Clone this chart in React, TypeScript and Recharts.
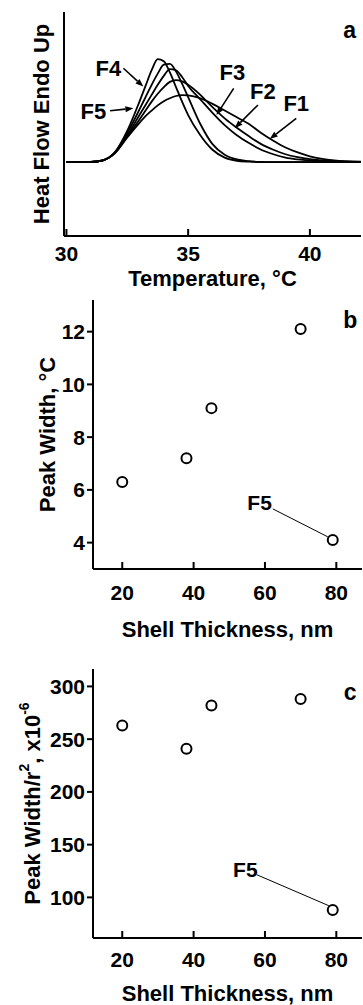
import {
  LineChart, Line, ScatterChart, Scatter,
  XAxis, YAxis, ReferenceLine, ReferenceDot,
} from 'recharts'

const FONT = '"Liberation Sans", Arial, Helvetica, sans-serif'

// panel a: DSC traces (arbitrary heat-flow units, 0..100 across the frame)
const temps = [30, 31, 31.5, 32, 32.5, 33, 33.25, 33.5, 33.75, 34, 34.25, 34.5, 34.75, 35, 35.5, 36, 36.5, 37, 37.5, 38, 38.5, 39, 39.5, 40, 41, 42.1]
const f1 = [33, 33.1, 33.8, 37, 44, 50.5, 53.5, 56, 58.3, 60.2, 61.5, 62.5, 62.9, 62.8, 61.5, 59, 56, 53, 50, 46, 42.5, 39.5, 37.3, 35.6, 33.8, 33.2]
const f2 = [33, 33.1, 33.8, 37.2, 44.5, 52, 56, 60, 63.5, 66.5, 68.8, 69.6, 69, 67.5, 63, 57.5, 52.5, 48.3, 44.5, 41, 38.5, 36.5, 35.2, 34.3, 33.4, 33]
const f3 = [33, 33.1, 33.8, 37.3, 45, 54, 58.5, 63, 67.5, 71.5, 74.5, 74, 71, 67, 61, 55, 49.5, 45, 41.5, 38.5, 36.5, 35, 34.2, 33.7, 33.2, 33]
const f4 = [33, 33.1, 33.8, 37.5, 46, 56.5, 62, 67.5, 72.5, 76.5, 76.8, 73.5, 68, 62, 50, 41, 36.3, 34.2, 33.4, 33.1, 33, 33, 33, 33, 33, 33]
const f5 = [33, 33.1, 33.8, 37.5, 47, 60, 67, 74, 79, 78, 73, 66.5, 60, 54, 45, 38.5, 35, 33.6, 33.2, 33, 33, 33, 33, 33, 33, 33]
const tempTicks = [30, 35, 40]

// panels b and c
const shellThickness = [20, 38, 45, 70, 79]
const peakWidth = [6.3, 7.2, 9.1, 12.1, 4.1]
const peakWidthPerR2 = [263, 241, 282, 288, 88]
const thicknessTicks = [20, 40, 60, 80]
const widthTicks = [4, 6, 8, 10, 12]
const normTicks = [100, 150, 200, 250, 300]

const dscData = temps.map((t, i) => ({ t, f1: f1[i], f2: f2[i], f3: f3[i], f4: f4[i], f5: f5[i] }))
const widthData = shellThickness.map((x, i) => ({ x, y: peakWidth[i] }))
const normData = shellThickness.map((x, i) => ({ x, y: peakWidthPerR2[i] }))

const tickStyle = { fill: '#000', fontSize: 21, fontWeight: 700, fontFamily: FONT }
const axisLine = { stroke: '#000', strokeWidth: 2 }
const noteLabel = (value: string, size = 22) => ({
  value, position: 'center' as const, fill: '#000', fontSize: size, fontWeight: 700, fontFamily: FONT,
})

function Arrow(props: any) {
  const { x1, y1, x2, y2 } = props
  const a = Math.atan2(y2 - y1, x2 - x1)
  const bx = x2 - 8 * Math.cos(a)
  const by = y2 - 8 * Math.sin(a)
  const s = Math.sin(a), c = Math.cos(a)
  const pts = `${x2},${y2} ${bx + 3 * s},${by - 3 * c} ${bx - 3 * s},${by + 3 * c}`
  return (
    <g>
      <line x1={x1} y1={y1} x2={bx} y2={by} stroke="#000" strokeWidth={1.6} />
      <polygon points={pts} fill="#000" />
    </g>
  )
}

function Ring(props: any) {
  return <circle cx={props.cx} cy={props.cy} r={5} fill="#fff" stroke="#000" strokeWidth={2} />
}

// rotated y-axis title, cx = centre measured from the left of the axis box
const vTitle = (cx: number, body: React.ReactNode) => (p: any) => {
  const vb = p.viewBox ?? p
  const x = vb.x + cx
  const y = vb.y + vb.height / 2
  return (
    <text x={x} y={y} transform={`rotate(-90 ${x} ${y})`} textAnchor="middle"
      dominantBaseline="central" fill="#000" fontSize={22} fontWeight={700} fontFamily={FONT}>
      {body}
    </text>
  )
}

const xTitle = (value: string, offset: number) => ({
  value, position: 'insideBottom' as const, offset,
  fill: '#000', fontSize: 22, fontWeight: 700, fontFamily: FONT,
})

function PanelA() {
  return (
    <LineChart width={363} height={292} data={dscData} margin={{ top: 12, right: 2, bottom: 0, left: 0 }}>
      <XAxis dataKey="t" type="number" domain={[29.9, 42.1]} ticks={tempTicks} allowDataOverflow
        height={56} tick={tickStyle} tickSize={-7} tickMargin={17}
        axisLine={axisLine} tickLine={axisLine}
        label={xTitle('Temperature, °C', 6)} />
      <XAxis xAxisId="top" orientation="top" type="number" domain={[29.9, 42.1]} height={0}
        tick={false} tickLine={false} axisLine={axisLine} />
      <YAxis type="number" domain={[0, 100]} width={64} tick={false} tickLine={false}
        axisLine={axisLine} label={{ content: vTitle(41, 'Heat Flow Endo Up') }} />
      <YAxis yAxisId="right" orientation="right" type="number" domain={[0, 100]} width={0}
        tick={false} tickLine={false} axisLine={axisLine} />
      {['f1', 'f2', 'f3', 'f4', 'f5'].map(k => (
        <Line key={k} dataKey={k} type="monotone" stroke="#000" strokeWidth={1.8}
          dot={false} isAnimationActive={false} />
      ))}
      <ReferenceLine segment={[{ x: 32.34, y: 74.9 }, { x: 33.16, y: 66.7 }]} shape={Arrow} />
      <ReferenceLine segment={[{ x: 31.79, y: 55.9 }, { x: 32.75, y: 57 }]} shape={Arrow} />
      <ReferenceLine segment={[{ x: 36.87, y: 65.9 }, { x: 36.16, y: 54 }]} shape={Arrow} />
      <ReferenceLine segment={[{ x: 37.87, y: 58.5 }, { x: 36.91, y: 48.1 }]} shape={Arrow} />
      <ReferenceLine segment={[{ x: 39.44, y: 52.5 }, { x: 38.35, y: 43.3 }]} shape={Arrow} />
      <ReferenceDot x={31.72} y={74.9} r={0} label={noteLabel('F4')} />
      <ReferenceDot x={31.11} y={55.9} r={0} label={noteLabel('F5')} />
      <ReferenceDot x={36.82} y={73} r={0} label={noteLabel('F3')} />
      <ReferenceDot x={38.07} y={64.8} r={0} label={noteLabel('F2')} />
      <ReferenceDot x={39.44} y={59.2} r={0} label={noteLabel('F1')} />
      <ReferenceDot x={41.63} y={92} r={0} label={noteLabel('a', 23)} />
    </LineChart>
  )
}

function ScatterPanel(props: {
  data: { x: number; y: number }[]; yDomain: [number, number]; yTicks: number[];
  height: number; top: number; xAxisH: number; xTickMargin: number; titleOffset: number;
  yTitle: (p: any) => React.ReactNode; f5Text: [number, number]; f5Line: [number, number, number, number];
  tag: string; tagPos: [number, number];
}) {
  const p = props
  return (
    <ScatterChart width={363} height={p.height} margin={{ top: p.top, right: 1, bottom: 0, left: 0 }}>
      <XAxis dataKey="x" type="number" domain={[11.8, 87.2]} ticks={thicknessTicks} allowDataOverflow
        height={p.xAxisH} tick={tickStyle} tickSize={-7} tickMargin={p.xTickMargin}
        axisLine={axisLine} tickLine={axisLine}
        label={xTitle('Shell Thickness, nm', p.titleOffset)} />
      <XAxis xAxisId="top" orientation="top" type="number" domain={[11.8, 87.2]} height={0}
        tick={false} tickLine={false} axisLine={axisLine} />
      <YAxis dataKey="y" type="number" domain={p.yDomain} ticks={p.yTicks} allowDataOverflow
        width={93} tick={tickStyle} tickSize={6} tickMargin={2}
        axisLine={axisLine} tickLine={axisLine} label={{ content: p.yTitle }} />
      <YAxis yAxisId="right" orientation="right" type="number" domain={p.yDomain} width={0}
        tick={false} tickLine={false} axisLine={axisLine} />
      <ReferenceLine segment={[{ x: p.f5Line[0], y: p.f5Line[1] }, { x: p.f5Line[2], y: p.f5Line[3] }]}
        stroke="#000" strokeWidth={1} />
      <Scatter data={p.data} shape={Ring} isAnimationActive={false} />
      <ReferenceDot x={p.f5Text[0]} y={p.f5Text[1]} r={0} label={noteLabel('F5', 21)} />
      <ReferenceDot x={p.tagPos[0]} y={p.tagPos[1]} r={0} label={noteLabel(p.tag, 23)} />
    </ScatterChart>
  )
}

export default function App() {
  return (
    <div style={{ position: 'absolute', left: 0, top: 0, width: 363, height: 1005, background: '#fff' }}>
      <div style={{ position: 'absolute', left: 0, top: 0 }}>
        <PanelA />
      </div>
      <div style={{ position: 'absolute', left: 0, top: 290 }}>
        <ScatterPanel data={widthData} yDomain={[3, 13.2]} yTicks={widthTicks}
          height={355} top={10} xAxisH={76} xTickMargin={23} titleOffset={8}
          yTitle={vTitle(47, 'Peak Width, °C')}
          f5Text={[58.5, 5.51]} f5Line={[62.2, 5.28, 77.6, 4.22]}
          tag="b" tagPos={[83.9, 12.43]} />
      </div>
      <div style={{ position: 'absolute', left: 0, top: 640 }}>
        <ScatterPanel data={normData} yDomain={[61.5, 316.5]} yTicks={normTicks}
          height={365} top={29} xAxisH={67} xTickMargin={21} titleOffset={4}
          yTitle={vTitle(32, <>Peak Width/r<tspan dy={-8} fontSize={14}>2</tspan><tspan dy={8}>, x10</tspan><tspan dy={-8} fontSize={14}>-6</tspan></>)}
          f5Text={[54.5, 126.3]} f5Line={[57.7, 121.5, 77.9, 92.1]}
          tag="c" tagPos={[83.9, 295.3]} />
      </div>
    </div>
  )
}
